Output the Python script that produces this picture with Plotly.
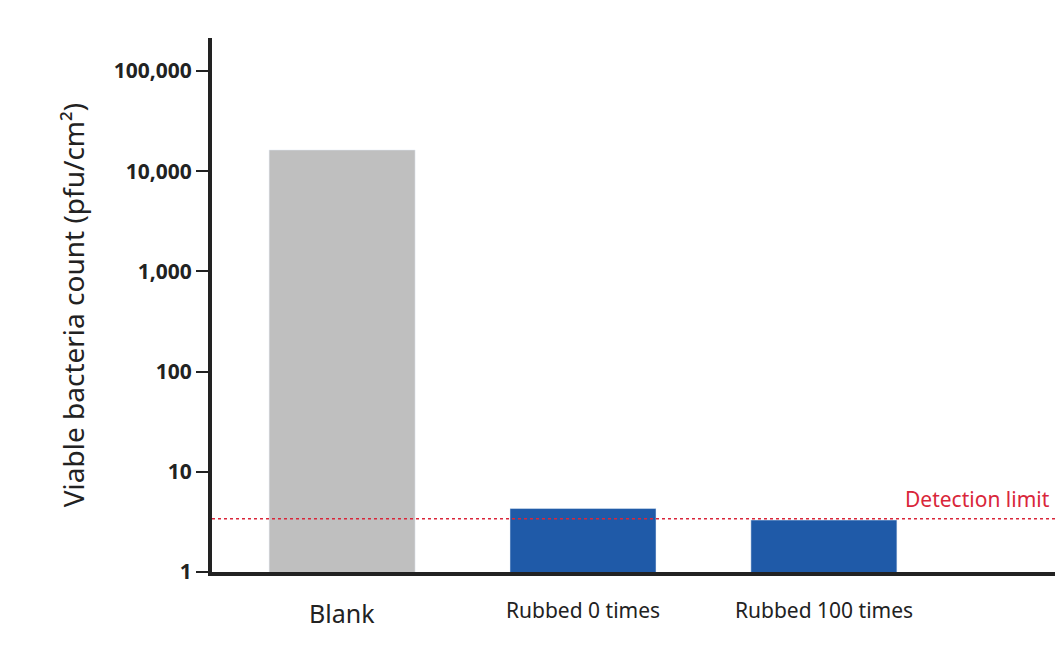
import plotly.graph_objects as go
import math

categories = ["Blank", "Rubbed 0 times", "Rubbed 100 times"]
values = [16300, 4.3, 3.3]
colors = ["#bfbfbf", "#1f5aa8", "#1f5aa8"]
tick_vals = [1, 10, 100, 1000, 10000, 100000]
tick_text = ["1", "10", "100", "1,000", "10,000", "100,000"]
detection_limit = 3.4
label_sizes = [25, 21, 21]

xs = list(range(len(categories)))
fig = go.Figure(go.Bar(x=xs, y=values, marker_color=colors, width=0.606))

fig.add_shape(type="line", xref="paper", yref="y", x0=0, x1=1,
              y0=detection_limit, y1=detection_limit,
              line=dict(color="#d9263a", width=1.5, dash="dot"))
fig.add_annotation(xref="paper", yref="y", x=0.99, y=math.log10(detection_limit),
                   text="Detection limit", showarrow=False, xanchor="right", yanchor="bottom",
                   yshift=4, font=dict(color="#d9263a", size=21, family="Noto Sans"))
for x, c, s in zip(xs, categories, label_sizes):
    fig.add_annotation(xref="x", yref="paper", x=x, y=0, yshift=-22, text=c, showarrow=False,
                       yanchor="top", font=dict(size=s, color="#222", family="Noto Sans"))

fig.update_layout(
    width=1063, height=657, plot_bgcolor="white", paper_bgcolor="white",
    margin=dict(l=204, r=11, t=30, b=93), showlegend=False,
    xaxis=dict(range=[-0.54, 2.98], showticklabels=False, ticks="", showgrid=False,
               showline=True, linecolor="#222", linewidth=4, zeroline=False),
    yaxis=dict(type="log", range=[0, 5.33], tickvals=tick_vals, ticktext=tick_text,
               ticks="outside", ticklen=12, tickwidth=2, tickcolor="#222",
               showgrid=False, showline=True, linecolor="#222", linewidth=4, zeroline=False,
               tickfont=dict(size=21, color="#222", family="Open Sans", weight="bold"),
               title=dict(text="Viable bacteria count (pfu/cm²)", standoff=22,
                          font=dict(size=28, color="#222", family="Noto Sans"))),
)
fig.write_html("out.html")
